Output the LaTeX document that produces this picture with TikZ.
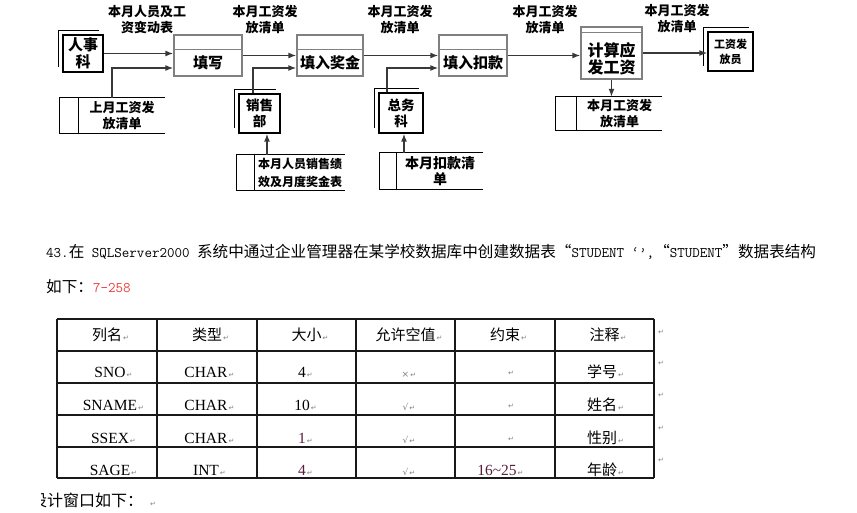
\documentclass[tikz,border=0pt]{standalone}
\usepackage{fontspec}
\setmainfont{Liberation Serif}
\newfontfamily\cjk{Noto Sans CJK SC}
\newfontfamily\symf{DejaVu Sans}
\usetikzlibrary{arrows.meta,positioning,calc}

\definecolor{numred}{RGB}{235,60,60}
\definecolor{numplum}{RGB}{90,30,60}
\newcommand{\fs}[2]{\fontsize{#1}{#2}\selectfont}
\newcommand{\lat}[1]{{\ttfamily\fs{14.6}{16}#1}}
\newcommand{\retmark}{\rlap{\hspace{1pt}\symf\fs{7}{7}\textcolor{gray}{↵}}}
% open-ended data store drawn round a node (#2 = width of the left box)
\newcommand{\storelines}[2]{%
  \draw[line width=1.2pt] (#1.north east) -- ([xshift=-#2]#1.north west)
    -- ([xshift=-#2]#1.south west) -- (#1.south east);
  \draw[line width=1.2pt] (#1.north west) -- (#1.south west);}
% doubled edge of an external entity
\newcommand{\entshadow}[1]{%
  \draw[line width=1.1pt] ([xshift=-4pt,yshift=6pt]#1.south west)
    -- ([xshift=-4pt,yshift=4pt]#1.north west) -- ([xshift=-5pt,yshift=4pt]#1.north east);}

\begin{document}
\begin{tikzpicture}[x=1pt,y=-1pt,
    arr/.style={-{Latex[length=8pt,width=6pt]}, line width=1.4pt, black!78},
    entity/.style={draw, line width=1.3pt, align=center, inner sep=0pt, font=\cjk\bfseries},
    proc/.style={draw=black!50, line width=1.3pt, inner sep=0pt},
    proctext/.style={align=center, inner sep=0pt, font=\cjk\bfseries\fs{15}{17}},
    store/.style={inner sep=0pt, align=center, font=\cjk\bfseries\fs{13}{16}},
    flowlbl/.style={align=center, inner sep=0pt, font=\cjk\bfseries\fs{13}{16}},
    tbl/.style={line width=1.5pt, black!90},
    cell/.style={inner sep=0pt, anchor=base, font=\fs{15.5}{15.5}},
    tick/.style={inner sep=0pt, anchor=base, font=\symf\fs{9}{9}, text=gray}]
    \useasboundingbox (0,0) rectangle (857,513);

    % External entities
    \node[entity, minimum width=40pt, minimum height=37pt, font=\cjk\bfseries\fs{15}{17}] (hr) at (83,53.5) {人事\\科};
    \node[entity, minimum width=41pt, minimum height=39pt, font=\cjk\bfseries\fs{13.5}{16}] (sales) at (259.5,113.5) {销售\\部};
    \node[entity, minimum width=44pt, minimum height=40pt, font=\cjk\bfseries\fs{13.5}{16}] (general) at (401,113) {总务\\科};
    \node[entity, minimum width=45pt, minimum height=39pt, font=\cjk\bfseries\fs{11}{15}] (payer) at (730.5,51.5) {工资发\\放员};
    \entshadow{hr}
    \entshadow{sales}
    \entshadow{general}
    \entshadow{payer}

    % Processes
    \node[proc, minimum width=68pt, minimum height=41pt] (fillin) at (208,55.5) {};
    \node[proc, minimum width=66pt, minimum height=41pt] (bonus) at (330,55.5) {};
    \node[proc, minimum width=68pt, minimum height=41pt] (deductp) at (473,55.5) {};
    \node[proc, minimum width=61pt, minimum height=52pt] (calc) at (611.5,53) {};
    \draw[proc] ([yshift=-15pt]fillin.north west) -- ([yshift=-15pt]fillin.north east);
    \draw[proc] ([yshift=-15pt]bonus.north west) -- ([yshift=-15pt]bonus.north east);
    \draw[proc] ([yshift=-15pt]deductp.north west) -- ([yshift=-15pt]deductp.north east);
    \draw[proc] ([yshift=-6pt]calc.north west) -- ([yshift=-6pt]calc.north east);
    \node[proctext] (fillint) at (208,63) {填写};
    \node[proctext] (bonust) at (330,63) {填入奖金};
    \node[proctext] (deductpt) at (473,63) {填入扣款};
    \node[proctext, font=\cjk\bfseries\fs{16}{17}] (calct) at (611.5,58.5) {计算应\\发工资};

    % Data stores
    \node[store, minimum width=86pt, minimum height=35pt] (lastm) at (122,115.5) {上月工资发\\放清单};
    \node[store, minimum width=90pt, minimum height=35pt, font=\cjk\bfseries\fs{12}{18}] (salesf) at (300,172.5) {本月人员销售绩\\效及月度奖金表};
    \node[store, minimum width=86pt, minimum height=36pt, font=\cjk\bfseries\fs{14}{16}] (deductf) at (440,171) {本月扣款清\\单};
    \node[store, minimum width=85pt, minimum height=33pt] (paystore) at (619.5,113.5) {本月工资发\\放清单};
    \storelines{lastm}{19pt}
    \storelines{salesf}{18pt}
    \storelines{deductf}{17pt}
    \storelines{paystore}{21pt}

    % Flows
    \draw[arr] (hr) -- (hr -| fillin.west);
    \draw[arr] ([xshift=-10pt]lastm.north) |- ([yshift=-12.5pt]fillin.west);
    \draw[arr] (fillin) -- (bonus);
    \draw[arr] ([xshift=-6.5pt]sales.north) |- ([yshift=-12.5pt]bonus.west);
    \draw[arr] ([xshift=7.5pt]sales.south |- salesf.north) -- ([xshift=7.5pt]sales.south);
    \draw[arr] (bonus) -- (deductp);
    \draw[arr] ([xshift=-14pt]general.north) |- ([yshift=-12.5pt]deductp.west);
    \draw[arr] ([xshift=3pt]general.south |- deductf.north) -- ([xshift=3pt]general.south);
    \draw[arr] (deductp.east) -- (deductp.east -| calc.west);
    \draw[arr] (calc) -- (calc |- paystore.north);
    \draw[arr] (calc.east) -- (calc.east -| payer.west);

    % Flow labels
    \node[flowlbl] (lblchg) at (147,20) {本月人员及工\\资变动表};
    \node[flowlbl] (lblpay1) at (265,20) {本月工资发\\放清单};
    \node[flowlbl] (lblpay2) at (400,20) {本月工资发\\放清单};
    \node[flowlbl] (lblpay3) at (545,20) {本月工资发\\放清单};
    \node[flowlbl] (lblpay4) at (677,18.5) {本月工资发\\放清单};

    % Question text
    \node[anchor=base west, inner sep=0pt, font=\cjk\fs{15.6}{16}] (qline) at (46,258)
      {\lat{43.}在\lat{ SQLServer2000 }系统中通过企业管理器在某学校数据库中创建数据表“\lat{STUDENT ‘’,}“\lat{STUDENT}”数据表结构};
    \node[anchor=base west, inner sep=0pt, font=\cjk\fs{15.6}{16}] (qline2) at (46,292)
      {如下：\lat{\textcolor{numred}{7-258}}};

    % Table grid
    \foreach \x in {57,157,257,356,455,555,654}
      \draw[tbl] (\x,319) -- (\x,478);
    \foreach \y in {319,351,383,415,447,478}
      \draw[tbl] (57,\y) -- (654,\y);

    % Header row
    \foreach \t/\cx [count=\i] in {列名/107,类型/207,大小/306.5,允许空值/405.5,约束/505,注释/604.5}
      \node[cell, font=\cjk\fs{15}{15}] (h\i) at (\cx,340) {\t\retmark};

    % Data rows
    \foreach \nm/\ty/\sz/\ok/\rem/\by [count=\r] in
      {SNO/CHAR/4/×/学号/377, SNAME/CHAR/10/√/姓名/410, SSEX/CHAR/\textcolor{numplum}{1}/√/性别/443, SAGE/INT/\textcolor{numplum}{4}/√/年龄/475} {
      \node[cell] (nm\r) at (110,\by) {\nm\retmark};
      \node[cell] (ty\r) at (206,\by) {\ty\retmark};
      \node[cell] (sz\r) at (302,\by) {\sz\retmark};
      \node[tick] (ok\r) at (405.5,\by) {\ok\retmark};
      \node[cell, font=\cjk\fs{15}{15}] (rem\r) at (602,\by) {\rem\retmark};
    }
    \foreach \by [count=\r] in {375,408,441}
      \node[tick] (con\r) at (507,\by) {\retmark};
    \node[cell, text=numplum] (con4) at (497,475) {16\textasciitilde25\retmark};

    % Row end marks
    \foreach \ry [count=\r] in {332,363,395,428,460}
      \node[inner sep=0pt, font=\symf\fs{7}{7}, text=gray] (eol\r) at (661,\ry) {↵};

    % Cut-off line below the table
    \begin{scope}
      \clip (41,485) rectangle (300,513);
      \node[anchor=west, inner sep=0pt, font=\cjk\fs{16}{16}] (design) at (31,500) {设计窗口如下：\hspace{6pt}\retmark};
    \end{scope}
  \end{tikzpicture}
\end{document}
